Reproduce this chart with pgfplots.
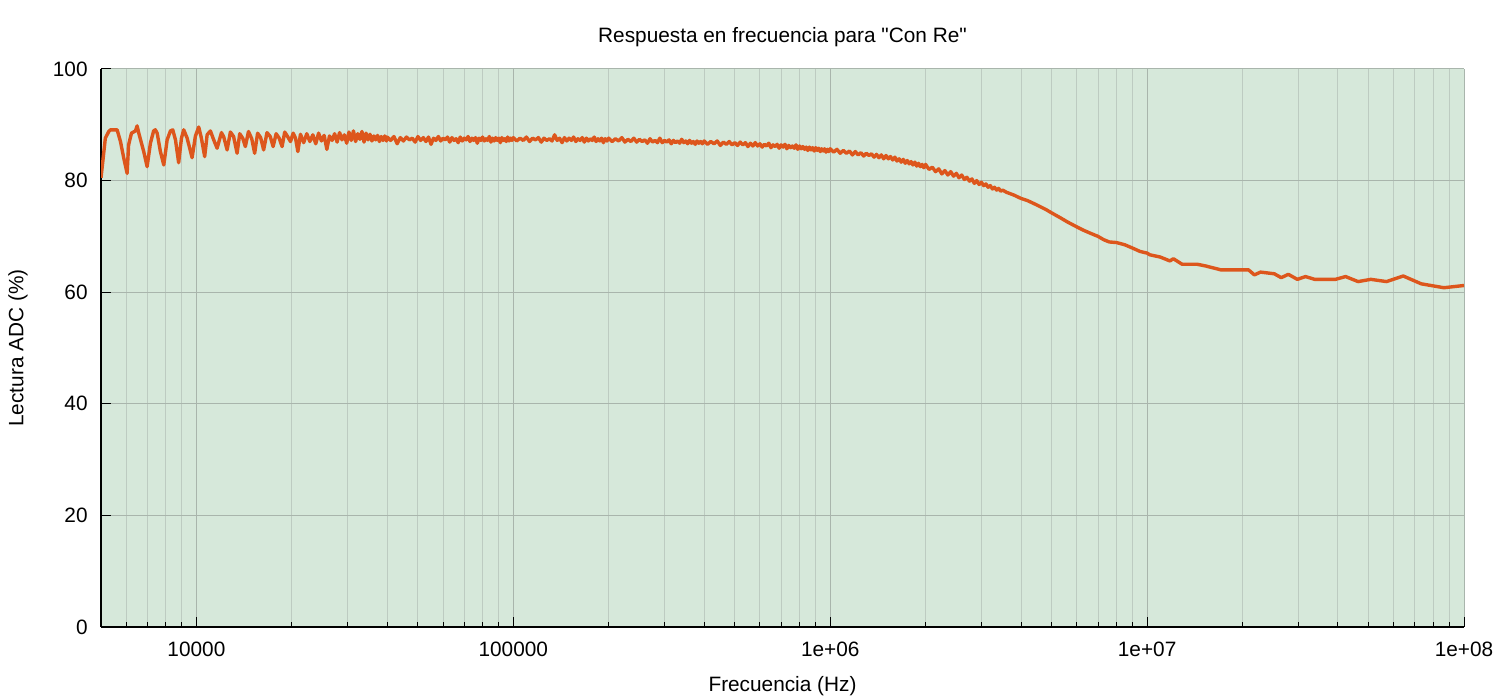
\documentclass[border=0pt]{standalone}
\usepackage{fontspec}
\setmainfont{Liberation Sans}[Ligatures=TeXOff]
\usepackage{pgfplots}
\usepackage{pgfplotstable}
\pgfplotsset{compat=1.18}

\definecolor{bgfill}{HTML}{D6E8DA}
\definecolor{gridmaj}{HTML}{A9B5AC}
\definecolor{gridmin}{HTML}{BDCBC1}
\definecolor{curve}{HTML}{DD561C}

% frecuencia (Hz) y lectura del ADC (%)
\pgfplotstableread{
f v
5000 80.5
5160 87.6
5290 88.8
5360 89.1
5620 89.1
5760 87.0
5900 84.0
6045 81.3
6110 86.4
6240 88.5
6420 88.9
6500 89.8
6580 88.5
6820 85.2
6990 82.5
7160 86.7
7330 88.9
7420 89.1
7520 88.5
7700 85.2
7890 82.8
8085 87.3
8280 88.9
8420 89.1
8590 87.3
8790 83.2
8970 87.6
9120 89.1
9350 87.6
9690 84.1
9930 88.0
10170 89.6
10370 87.6
10620 84.3
10810 88.2
11070 88.9
11340 87.3
11620 85.8
12000 88.6
12200 87.8
12500 85.5
12800 88.7
13100 87.9
13440 84.9
13700 88.4
14000 87.6
14270 86.1
14600 88.8
14950 87.5
15270 84.9
15600 88.5
15950 87.7
16300 85.5
16700 88.6
17100 87.9
17460 86.1
17850 88.4
18250 87.6
18640 86.1
19000 88.7
19400 87.9
19810 87.0
20200 88.5
20550 87.6
20900 85.2
21300 88.3
21800 86.8
22300 88.4
22800 87.0
23300 88.2
23800 86.6
24300 88.5
24800 87.1
25300 88.1
25800 85.6
26300 88.0
26800 87.2
27300 88.4
27800 86.9
28300 88.6
28800 87.3
29300 88.2
29800 86.7
30300 88.7
30800 87.2
31300 88.9
31800 87.0
32300 88.4
32800 87.4
33300 88.8
33800 86.9
34300 88.5
34800 87.3
35300 88.3
35800 87.1
36300 88.0
36800 87.3
37300 88.1
37800 87.0
38300 87.9
38800 87.2
39300 88.0
39800 87.1
40000 87.8
41000 87.2
42000 87.9
43000 86.6
44000 87.7
45000 87.1
46000 87.8
47000 87.3
48000 87.6
49000 86.9
50000 87.9
51000 87.2
52000 87.7
53000 87.0
54000 87.8
55000 86.5
56000 87.6
57000 87.2
58000 87.9
59000 87.1
60000 87.6
61000 87.3
62000 87.8
63000 86.9
64000 87.7
65000 87.2
66000 87.5
67000 86.8
68000 87.8
69000 87.1
70000 87.6
71000 87.3
72000 87.9
73000 87.0
74000 87.6
75000 87.2
76000 87.7
77000 86.7
78000 87.6
79000 87.2
80000 87.8
81000 87.1
82000 87.5
83000 87.2
84000 87.9
85000 86.9
86000 87.6
87000 87.1
88000 87.7
89000 87.2
90000 87.6
91000 86.8
92000 87.7
93000 87.2
94000 87.5
95000 87.0
96000 87.8
97000 87.1
98000 87.6
99000 87.2
100000 87.7
102500 87.1
105000 87.6
107500 87.2
110000 87.8
112500 87.0
115000 87.6
117500 87.3
120000 87.7
122500 86.9
125000 87.6
127500 87.2
130000 87.5
132500 87.1
135000 88.2
137500 87.2
140000 87.6
142500 86.8
145000 87.7
147500 87.1
150000 87.6
152500 87.2
155000 87.8
157500 87.0
160000 87.5
162500 87.2
165000 87.7
167500 86.9
170000 87.6
172500 87.1
175000 87.5
177500 87.2
180000 87.8
182500 87.0
185000 87.5
187500 87.1
190000 87.6
192500 86.8
195000 87.5
197500 87.1
200000 87.6
205000 87.0
210000 87.5
215000 87.1
220000 87.7
225000 86.9
230000 87.4
235000 87.0
240000 87.6
245000 86.9
250000 87.4
255000 87.0
260000 87.3
265000 86.7
270000 87.5
275000 86.9
280000 87.2
285000 86.8
290000 87.6
295000 86.8
300000 87.2
305000 86.9
310000 87.3
315000 86.6
320000 87.2
325000 86.8
330000 87.1
335000 86.7
340000 87.4
345000 86.8
350000 87.1
355000 86.6
360000 87.2
365000 86.7
370000 87.0
375000 86.5
380000 87.1
385000 86.7
390000 87.0
395000 86.6
400000 87.1
410000 86.5
420000 87.0
430000 86.6
440000 87.1
450000 86.3
460000 86.9
470000 86.5
480000 87.0
490000 86.4
500000 86.8
510000 86.3
520000 86.9
530000 86.4
540000 86.8
550000 86.1
560000 86.7
570000 86.2
580000 86.8
590000 86.2
600000 86.6
610000 86.0
620000 86.5
630000 86.2
640000 86.7
650000 85.9
660000 86.4
670000 86.1
680000 86.5
690000 85.8
700000 86.4
710000 86.0
720000 86.5
730000 85.7
740000 86.3
750000 85.9
760000 86.2
770000 85.8
780000 86.4
790000 85.6
800000 86.2
810000 85.7
820000 86.1
830000 85.6
840000 86.0
850000 85.4
860000 86.0
870000 85.5
880000 85.9
890000 85.3
900000 85.9
910000 85.4
920000 85.8
930000 85.2
940000 85.7
950000 85.3
960000 85.7
970000 85.1
980000 85.6
990000 85.2
1000000 85.7
1025000 85.1
1050000 85.6
1075000 84.9
1100000 85.4
1125000 84.9
1150000 85.3
1175000 84.6
1200000 85.2
1225000 84.6
1250000 85.0
1275000 84.4
1300000 84.9
1325000 84.5
1350000 84.8
1375000 84.2
1400000 84.7
1425000 84.1
1450000 84.6
1475000 83.9
1500000 84.5
1525000 83.9
1550000 84.3
1575000 83.7
1600000 84.2
1625000 83.5
1650000 83.9
1675000 83.3
1700000 83.8
1725000 83.1
1750000 83.6
1775000 83.0
1800000 83.4
1825000 82.8
1850000 83.3
1875000 82.6
1900000 83.1
1925000 82.5
1950000 82.9
1975000 82.3
2000000 82.9
2050000 82.0
2100000 82.4
2150000 81.6
2200000 82.1
2250000 81.2
2300000 81.8
2350000 81.0
2400000 81.6
2450000 80.8
2500000 81.3
2550000 80.5
2600000 81.0
2650000 80.2
2700000 80.6
2750000 79.9
2800000 80.3
2850000 79.5
2900000 80.0
2950000 79.3
3000000 79.7
3050000 79.1
3100000 79.4
3150000 78.8
3200000 79.1
3250000 78.5
3300000 78.8
3350000 78.3
3400000 78.6
3450000 78.1
3500000 78.3
3600000 77.9
3800000 77.4
4000000 76.8
4200000 76.4
4500000 75.6
4800000 74.8
5000000 74.2
5300000 73.4
5600000 72.6
6000000 71.7
6300000 71.1
6600000 70.6
7000000 70.0
7300000 69.4
7600000 69.0
8000000 68.9
8500000 68.5
9000000 67.9
9500000 67.3
10000000 67.0
10200000 66.7
11000000 66.3
11800000 65.6
12100000 66.0
12900000 65.0
14400000 65.0
15300000 64.7
17100000 64.0
20900000 64.0
21800000 63.1
22800000 63.6
25200000 63.3
26500000 62.6
27900000 63.2
29800000 62.3
31600000 62.8
33800000 62.3
39300000 62.3
42300000 62.8
46300000 61.9
50800000 62.3
56900000 61.9
64300000 62.9
73300000 61.5
86400000 60.8
100000000 61.2
}\datos

\begin{document}
\begin{tikzpicture}
\begin{axis}[
  scale only axis,
  width=681.5pt, height=279pt,
  xmode=log,
  xmin=5000, xmax=1e8,
  ymin=0, ymax=100,
  axis x line*=bottom, axis y line*=left,
  axis line style={-, black, line width=0.6pt},
  axis background/.style={fill=bgfill},
  tick align=inside,
  major tick length=5pt, minor tick length=2.5pt,
  every tick/.style={black, line width=0.5pt},
  xtick={1e4,1e5,1e6,1e7,1e8},
  xticklabels={10000,100000,1e+06,1e+07,1e+08},
  minor xtick={6000,7000,8000,9000,
    20000,30000,40000,50000,60000,70000,80000,90000,
    2e5,3e5,4e5,5e5,6e5,7e5,8e5,9e5,
    2e6,3e6,4e6,5e6,6e6,7e6,8e6,9e6,
    2e7,3e7,4e7,5e7,6e7,7e7,8e7,9e7},
  ytick={0,20,40,60,80,100},
  yticklabels={0,20,40,60,80,100},
  xmajorgrids, xminorgrids, ymajorgrids,
  major grid style={gridmaj, line width=0.5pt},
  minor grid style={gridmin, line width=0.5pt},
  /pgf/number format/assume math mode=true,
  every tick label/.append style={font=\fontsize{10.4}{12}\selectfont},
  xticklabel style={anchor=north, inner sep=0pt, yshift=-7.5pt},
  yticklabel style={anchor=east, inner sep=0pt, xshift=-6.5pt},
  title={Respuesta en frecuencia para "Con Re"},
  title style={at={(0.5,1)}, anchor=base, yshift=7pt, inner sep=0pt,
    font=\fontsize{10.4}{12}\selectfont},
  xlabel={Frecuencia (Hz)},
  xlabel style={at={(0.5,0)}, anchor=base, yshift=-32.5pt, inner sep=0pt,
    font=\fontsize{10.4}{12}\selectfont},
  ylabel={Lectura ADC (\%)},
  ylabel style={at={(0,0.5)}, anchor=center, yshift=41.5pt, inner sep=0pt,
    font=\fontsize{10.4}{12}\selectfont},
]
\coordinate (bl) at (rel axis cs:0,0);
\coordinate (tr) at (rel axis cs:1,1);
\addplot[curve, line width=1.7pt, line join=round, mark=none] table[x=f, y=v] {\datos};
\end{axis}
\pgfresetboundingbox
\path ([xshift=-50.5pt, yshift=-36.5pt]bl) rectangle ([xshift=18pt, yshift=34.5pt]tr);
\end{tikzpicture}
\end{document}
